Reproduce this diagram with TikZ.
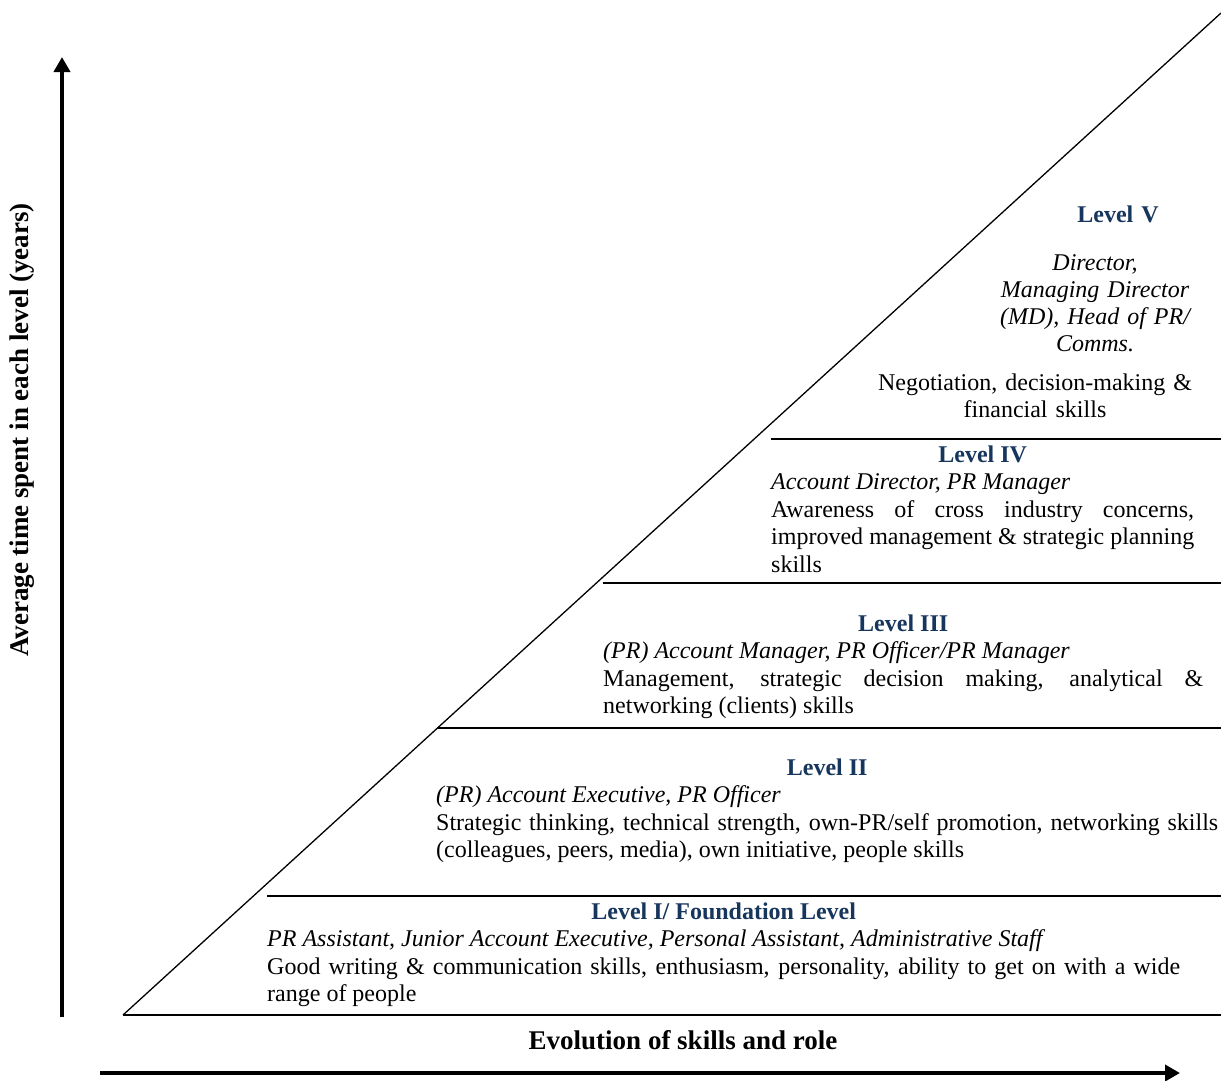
\documentclass[tikz,border=0pt]{standalone}
\usepackage{fontspec}
\setmainfont{Liberation Serif}
\usetikzlibrary{arrows.meta}
\definecolor{lvlblue}{RGB}{23,54,93}
\hyphenpenalty=10000
\exhyphenpenalty=10000
\tolerance=10000
\newcommand{\lvltitle}[1]{{\centering\leavevmode\bfseries\color{lvlblue}#1\par}}
\tikzset{
  lvltext/.style={inner sep=0pt, anchor=base west, align=justify, font=\fontsize{24}{27.5}\selectfont},
  lvlcentre/.style={inner sep=0pt, anchor=base, align=center, font=\fontsize{24}{27.5}\selectfont},
  axislabel/.style={inner sep=0pt, font=\fontsize{27}{30}\selectfont\bfseries},
  axisarrow/.style={line width=4pt, -{Triangle[width=16pt,length=15pt]}},
  levelline/.style={line width=2pt}
}
\begin{document}
\begin{tikzpicture}[x=1pt,y=-1pt]
\useasboundingbox (0,0) rectangle (1221,1080);
% axes
\coordinate (ybot) at (62,1017);
\coordinate (ytop) at (62,57);
\coordinate (xleft) at (100,1073);
\coordinate (xright) at (1180,1073);
\draw[axisarrow] (ybot) -- (ytop);
\draw[axisarrow] (xleft) -- (xright);
\node[axislabel, rotate=90] (ylabel) at (22,430) {Average time spent in each level (years)};
\node[axislabel] (xlabel) at (683,1040) {Evolution of skills and role};
% triangle and steps
\draw[line width=1.3pt] (123,1015) -- (1221,13);
\draw[line width=1.5pt] (123,1015) -- (1221,1015);
\foreach \x/\y in {267/896, 437/728, 603/583, 771/439}
  \draw[levelline] (\x,\y) -- (1221,\y);
% levels
\node[lvltext, text width=913pt] (lvlI) at (267,919) {\lvltitle{Level I/ Foundation Level}
  \textit{PR Assistant, Junior Account Executive, Personal Assistant, Administrative Staff}\par
  Good writing \& communication skills, enthusiasm, personality, ability to get on with a wide range of people};
\node[lvltext, text width=782pt] (lvlII) at (436,775) {\lvltitle{Level II}
  \textit{(PR) Account Executive, PR Officer}\par
  Strategic thinking, technical strength, own-PR/self promotion, networking skills (colleagues, peers, media), own initiative, people skills};
\node[lvltext, text width=600pt] (lvlIII) at (603,631) {\lvltitle{Level III}
  \textit{(PR) Account Manager, PR Officer/PR Manager}\par
  Management, strategic decision making, analytical \& networking (clients) skills};
\node[lvltext, text width=423pt] (lvlIV) at (771,462) {\lvltitle{Level IV}
  \textit{Account Director, PR Manager}\par
  Awareness of cross industry concerns, improved management \& strategic planning skills};
\node[lvlcentre, text width=200pt, text=lvlblue, font=\fontsize{24}{27.5}\selectfont\bfseries] (lvlV) at (1118,222) {Level V};
\node[lvlcentre, text width=240pt, font=\fontsize{24}{27}\selectfont\itshape] (lvlVrole) at (1095,270) {Director,\\ Managing Director\\ (MD), Head of PR/\\ Comms.};
\node[lvlcentre, text width=340pt] (lvlVskill) at (1035,390) {Negotiation, decision-making \&\\ financial skills};
\end{tikzpicture}
\end{document}
